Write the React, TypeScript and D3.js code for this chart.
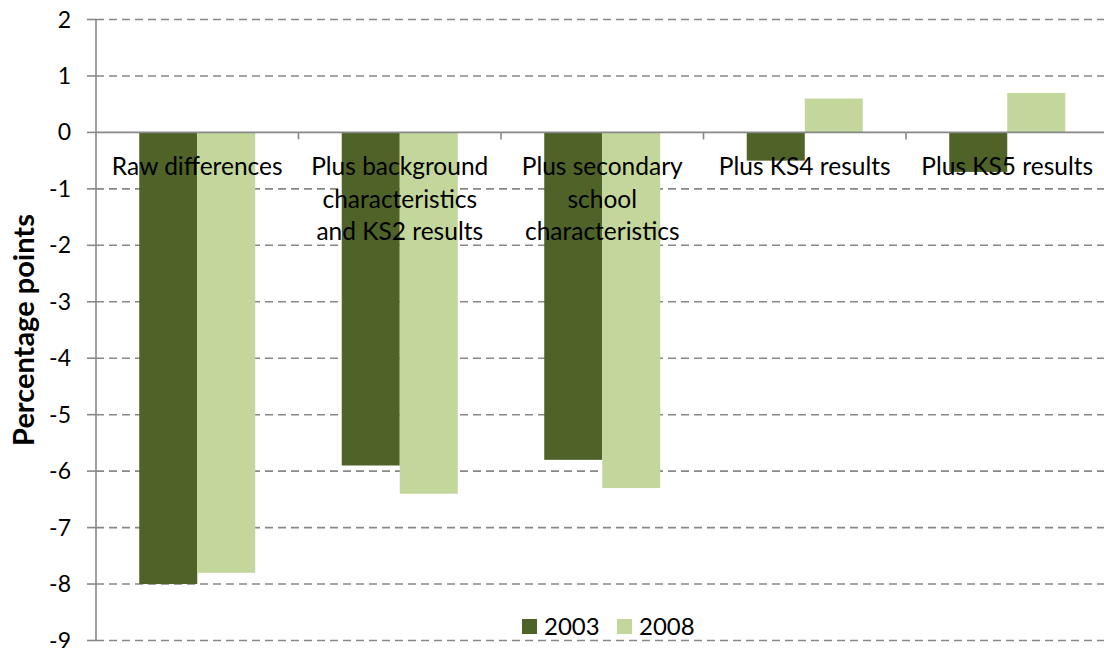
import React from "react";
import * as d3 from "d3";

const categories: string[][] = [
  ["Raw differences"],
  ["Plus background", "characteristics", "and KS2 results"],
  ["Plus secondary", "school", "characteristics"],
  ["Plus KS4 results"],
  ["Plus KS5 results"],
];
const seriesNames = ["2003", "2008"];
const values2003 = [-8.0, -5.9, -5.8, -0.5, -0.7];
const values2008 = [-7.8, -6.4, -6.3, 0.6, 0.7];
const yTicks = [2, 1, 0, -1, -2, -3, -4, -5, -6, -7, -8, -9];
const colors = ["#4F6228", "#C3D69B"];

const W = 1104;
const H = 648;
const FONT = "Lato, Carlito, Calibri, 'Open Sans', sans-serif";

export default function App() {
  const left = 96;
  const right = 1108.5;
  const y = d3.scaleLinear().domain([-9, 2]).range([640.5, 19.5]);
  const idx = categories.map((_, i) => i);
  const x0 = d3.scaleBand<number>().domain(idx).range([left, right]).paddingInner(0).paddingOuter(0);
  const bw = x0.bandwidth();
  const x1 = d3
    .scaleBand<number>()
    .domain([0, 1])
    .range([0, bw])
    .paddingInner(0)
    .paddingOuter(0.7455);
  const series = [values2003, values2008];
  const y0 = y(0);

  return (
    <div style={{ position: "absolute", left: 0, top: 0 }}>
      <svg width={W} height={H} style={{ display: "block", background: "#fff" }}>
        {/* gridlines */}
        {yTicks.map((t) =>
          t === 0 ? null : (
            <line
              key={"g" + t}
              x1={left}
              x2={W}
              y1={y(t)}
              y2={y(t)}
              stroke="#888888"
              strokeWidth={1.6}
              strokeDasharray="8,5"
            />
          )
        )}
        {/* y tick marks */}
        {yTicks.map((t) => (
          <line key={"t" + t} x1={87} x2={left} y1={y(t)} y2={y(t)} stroke="#888888" strokeWidth={1.6} />
        ))}
        {/* y tick labels */}
        {yTicks.map((t) => (
          <text
            key={"l" + t}
            x={71}
            y={y(t)}
            dy="0.35em"
            textAnchor="end"
            fontFamily={FONT}
            fontSize={23}
            fill="#000"
          >
            {t}
          </text>
        ))}
        {/* bars */}
        {series.map((vals, s) =>
          vals.map((v, i) => (
            <rect
              key={`b${s}-${i}`}
              x={(x0(i) as number) + (x1(s) as number)}
              width={x1.bandwidth()}
              y={Math.min(y(v), y0)}
              height={Math.abs(y(v) - y0)}
              fill={colors[s]}
            />
          ))
        )}
        {/* axes */}
        <line x1={left} x2={left} y1={y(2)} y2={y(-9)} stroke="#888888" strokeWidth={1.6} />
        <line x1={left} x2={W} y1={y0} y2={y0} stroke="#888888" strokeWidth={1.6} />
        {idx.map((i) => (
          <line
            key={"ct" + i}
            x1={(x0(i) as number) + bw}
            x2={(x0(i) as number) + bw}
            y1={y0}
            y2={y0 + 7}
            stroke="#888888"
            strokeWidth={1.6}
          />
        ))}
        {/* category labels */}
        {categories.map((lines, i) => (
          <text
            key={"c" + i}
            textAnchor="middle"
            fontFamily={FONT}
            fontSize={24.5}
            fill="#000"
          >
            {lines.map((ln, j) => (
              <tspan key={j} x={(x0(i) as number) + bw / 2} y={y0 + 34.5 + j * 32.5} dy="0.35em">
                {ln}
              </tspan>
            ))}
          </text>
        ))}
        {/* y axis title */}
        <text
          transform={`translate(34, ${y(-3.5)}) rotate(-90)`}
          textAnchor="middle"
          fontFamily={FONT}
          fontSize={29}
          fontWeight="bold"
          fill="#000"
        >
          Percentage points
        </text>
        {/* legend */}
        {seriesNames.map((name, s) => (
          <g key={"lg" + s} transform={`translate(${522 + s * 95}, 619)`}>
            <rect width={15} height={15} fill={colors[s]} />
            <text x={22} y={7.5} dy="0.35em" fontFamily={FONT} fontSize={24} fill="#000">
              {name}
            </text>
          </g>
        ))}
      </svg>
    </div>
  );
}
